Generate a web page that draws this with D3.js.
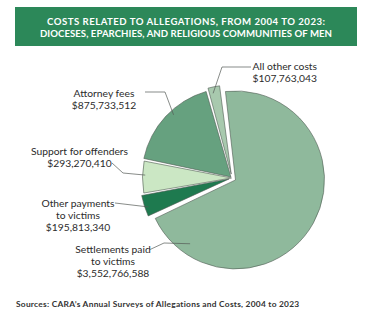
<!DOCTYPE html>
<html>
<head>
<meta charset="utf-8">
<script src="https://cdn.jsdelivr.net/npm/d3@7"></script>
<style>
  html, body { margin: 0; padding: 0; background: #ffffff; }
  svg { display: block; }
</style>
</head>
<body>
<svg id="chart" width="381" height="331"></svg>
<script>
// Cost categories, clockwise from the top of the pie
const categories = [
  "Settlements paid to victims",
  "Other payments to victims",
  "Support for offenders",
  "Attorney fees",
  "All other costs"
];
const amounts = [3552766588, 195813340, 293270410, 875733512, 107763043];
// Label lines (without the amount line, which is formatted from amounts)
const labelLines = [
  ["Settlements paid", "to victims"],
  ["Other payments", "to victims"],
  ["Support for offenders"],
  ["Attorney fees"],
  ["All other costs"]
];
const titleLines = [
  "COSTS RELATED TO ALLEGATIONS, FROM 2004 TO 2023:",
  "DIOCESES, EPARCHIES, AND RELIGIOUS COMMUNITIES OF MEN"
];
const sourceText = "Sources: CARA\u2019s Annual Surveys of Allegations and Costs, 2004 to 2023";

const colors = ["#8fb99c", "#1e7a4f", "#cbe7c4", "#66a17f", "#a8c9ae"];

const svg = d3.select("#chart");
const fmt = d3.format("$,");

// Title banner
svg.append("rect")
  .attr("x", 15).attr("y", 7).attr("width", 342).attr("height", 39)
  .attr("fill", "#2c8859");

const titleWidths = [278, 292];
titleLines.forEach((t, i) => {
  const el = svg.append("text")
    .attr("x", 186).attr("y", 24.5 + i * 12.5)
    .attr("text-anchor", "middle")
    .attr("fill", "#ffffff")
    .style("font-family", "Lato, 'Open Sans', sans-serif")
    .style("font-weight", 700)
    .style("font-size", "9.6px")
    .text(t);
  // spread letters so the line fills the banner width
  const w = el.node().getComputedTextLength();
  const ls = (titleWidths[i] - w) / (t.length - 1);
  el.style("letter-spacing", ls + "px")
    .attr("x", 186 + ls / 2);
});

// Pie
const cx = 232, cy = 178, R = 89;
const start = -7 * Math.PI / 180;
const pie = d3.pie().sort(null).value(d => d)
  .startAngle(start).endAngle(start + 2 * Math.PI)
  .padAngle(0.018);
const arcs = pie(amounts);
const arc = d3.arc().innerRadius(0).outerRadius(R).padRadius(R);
const explode = [4, 3, 0.5, 1.5, 4];

function offset(a, i) {
  const m = (a.startAngle + a.endAngle) / 2;
  return [Math.sin(m) * explode[i], -Math.cos(m) * explode[i]];
}

const g = svg.append("g").attr("transform", `translate(${cx},${cy})`);
g.selectAll("path.slice")
  .data(arcs)
  .join("path")
  .attr("class", "slice")
  .attr("transform", (d, i) => { const o = offset(d, i); return `translate(${o[0]},${o[1]})`; })
  .attr("d", arc)
  .attr("fill", (d, i) => colors[i])
  .attr("stroke", "#4f5a52")
  .attr("stroke-width", 0.6)
  .attr("stroke-linejoin", "round");

// Label placement: text centre x, first baseline, anchor, leader path start/elbow,
// and where the leader meets the slice (fraction of the slice angle, fraction of radius)
const labelLayout = [
  { x: 113, y: 252.5, anchor: "middle", lead: [[149, 250], [164, 243]], at: [0.883, 0.88] },
  { x: 78,  y: 206.5, anchor: "middle", lead: [[115, 203]], at: [0.40, 0.96] },
  { x: 79.5, y: 155,  anchor: "middle", lead: [[112, 163], [123, 173]], at: [0.56, 0.97] },
  { x: 104, y: 97,    anchor: "middle", lead: [[145, 92], [165, 92]], at: [0.57, 0.95] },
  { x: 252.5, y: 69.5, anchor: "start", lead: [[251, 67], [222, 67]], at: [0.35, 0.93] }
];

const lineH = 12.3;
const labels = svg.append("g")
  .style("font-family", "Lato, 'Open Sans', sans-serif")
  .style("font-size", "10.3px")
  .attr("fill", "#2b2b2b");

arcs.forEach((a, i) => {
  const L = labelLayout[i];
  const lines = labelLines[i].concat([fmt(amounts[i])]);
  const t = labels.append("text")
    .attr("text-anchor", L.anchor);
  lines.forEach((s, k) => {
    t.append("tspan").attr("x", L.x).attr("y", L.y + k * lineH).text(s);
  });

  // leader line into the slice
  const o = offset(a, i);
  const ang = a.startAngle + (a.endAngle - a.startAngle) * L.at[0];
  const r = R * L.at[1];
  const end = [cx + o[0] + Math.sin(ang) * r, cy + o[1] - Math.cos(ang) * r];
  const pts = L.lead.concat([end]);
  svg.append("path")
    .attr("d", d3.line()(pts))
    .attr("fill", "none")
    .attr("stroke", "#555a56")
    .attr("stroke-width", 0.7);
});

// Source note
svg.append("text")
  .attr("x", 16).attr("y", 307)
  .attr("fill", "#333333")
  .style("font-family", "Lato, 'Open Sans', sans-serif")
  .style("font-weight", 700)
  .style("font-size", "8.4px")
  .style("letter-spacing", "0.25px")
  .text(sourceText);
</script>
</body>
</html>
